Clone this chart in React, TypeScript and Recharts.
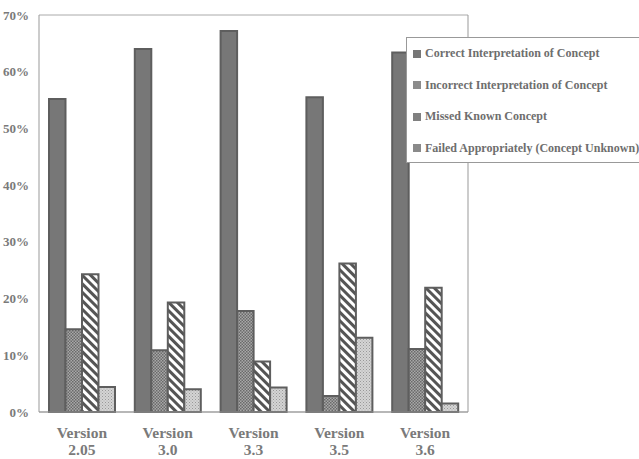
import { BarChart, Bar, XAxis, YAxis, CartesianGrid } from 'recharts';

const versions = ['2.05', '3.0', '3.3', '3.5', '3.6'];
const correct = [55.2, 64.0, 67.2, 55.5, 63.4];
const incorrect = [14.6, 10.9, 17.8, 2.8, 11.1];
const missed = [24.3, 19.3, 8.9, 26.2, 21.9];
const failed = [4.4, 4.0, 4.3, 13.1, 1.5];
const yTicks = [0, 10, 20, 30, 40, 50, 60, 70];

const seriesNames = [
  'Correct Interpretation of Concept',
  'Incorrect Interpretation of Concept',
  'Missed Known Concept',
  'Failed Appropriately (Concept Unknown)',
];

const data = versions.map((v, i) => ({
  version: v,
  correct: correct[i],
  incorrect: incorrect[i],
  missed: missed[i],
  failed: failed[i],
}));

const serif = '"Liberation Serif", "Times New Roman", serif';
const textGray = '#7a7a7a';
const border = '#5e5e5e';

const VersionTick = (props: any) => {
  const { x, y, payload } = props;
  return (
    <text
      x={x}
      y={y}
      textAnchor="middle"
      fontFamily={serif}
      fontWeight="bold"
      fontSize={15.5}
      fill={textGray}
    >
      <tspan x={x} dy={18}>Version</tspan>
      <tspan x={x} dy={16.5}>{payload.value}</tspan>
    </text>
  );
};

const legendFills = ['#777', '#8c8c8c', '#808080', '#8a8a8a'];

export default function App() {
  return (
    <div style={{ position: 'absolute', left: 0, top: 0, width: 639, height: 459, background: '#fff', overflow: 'hidden' }}>
      <BarChart
        width={639}
        height={459}
        data={data}
        margin={{ top: 15, right: 170, left: 0, bottom: 0 }}
        barGap={0}
        barSize={16.5}
      >
        <defs>
          <pattern id="checker" width="3" height="3" patternUnits="userSpaceOnUse">
            <rect width="3" height="3" fill="#a8a8a8" />
            <rect width="1.5" height="1.5" fill="#6a6a6a" />
            <rect x="1.5" y="1.5" width="1.5" height="1.5" fill="#6a6a6a" />
          </pattern>
          <pattern id="stripes" width="6" height="6" patternUnits="userSpaceOnUse" patternTransform="rotate(-45)">
            <rect width="6" height="6" fill="#fff" />
            <rect width="3" height="6" fill="#555" />
          </pattern>
          <pattern id="stipple" width="3" height="3" patternUnits="userSpaceOnUse">
            <rect width="3" height="3" fill="#d4d4d4" />
            <rect width="1" height="1" fill="#999" />
            <rect x="1.5" y="1.5" width="1" height="1" fill="#aaa" />
          </pattern>
        </defs>
        <CartesianGrid vertical={false} stroke="#aaa" strokeWidth={1} />
        <XAxis
          dataKey="version"
          height={47}
          tick={<VersionTick />}
          tickLine={false}
          axisLine={{ stroke: '#999' }}
          interval={0}
        />
        <YAxis
          yAxisId="left"
          width={39}
          domain={[0, 70]}
          ticks={yTicks}
          tickFormatter={(v: number) => `${v}%`}
          tickLine={false}
          axisLine={{ stroke: '#999' }}
          tick={{ fontFamily: serif, fontWeight: 'bold', fontSize: 13, fill: textGray }}
          tickMargin={4}
        />
        <YAxis
          yAxisId="right"
          orientation="right"
          width={1}
          domain={[0, 70]}
          ticks={yTicks}
          tick={false}
          tickLine={false}
          axisLine={{ stroke: '#999' }}
        />
        <Bar yAxisId="left" dataKey="correct" fill="#777" stroke={border} strokeWidth={2} isAnimationActive={false} />
        <Bar yAxisId="left" dataKey="incorrect" fill="url(#checker)" stroke={border} strokeWidth={2} isAnimationActive={false} />
        <Bar yAxisId="left" dataKey="missed" fill="url(#stripes)" stroke={border} strokeWidth={2} isAnimationActive={false} />
        <Bar yAxisId="left" dataKey="failed" fill="url(#stipple)" stroke={border} strokeWidth={2} isAnimationActive={false} />
      </BarChart>
      <div
        style={{
          position: 'absolute',
          left: 406,
          top: 37,
          width: 250,
          height: 126,
          border: '1px solid #999',
          background: '#fff',
          boxSizing: 'border-box',
          fontFamily: serif,
          fontWeight: 'bold',
          fontSize: 12,
          color: '#6e6e6e',
        }}
      >
        {seriesNames.map((name, i) => (
          <div key={name} style={{ display: 'flex', alignItems: 'center', height: 31.5, paddingLeft: 6, whiteSpace: 'nowrap' }}>
            <span style={{ display: 'inline-block', width: 8, height: 8, background: legendFills[i], marginRight: 4 }} />
            {name}
          </div>
        ))}
      </div>
    </div>
  );
}
